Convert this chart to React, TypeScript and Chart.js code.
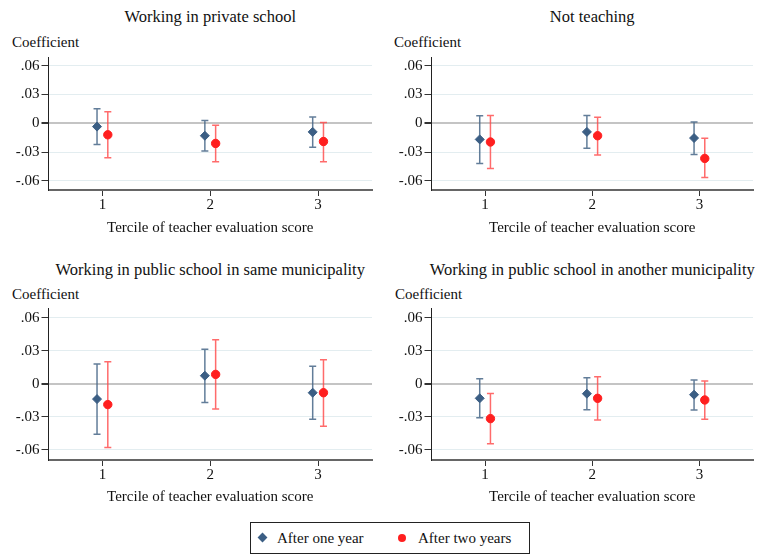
import React, { useEffect, useRef } from "react";
import { Chart, registerables } from "chart.js";

Chart.register(...registerables);

// ---------- DATA ----------
const categories = [1, 2, 3];
const yTickValues = [-0.06, -0.03, 0, 0.03, 0.06];
const seriesNames = ["After one year", "After two years"];
const xAxisTitle = "Tercile of teacher evaluation score";
const yAxisTitle = "Coefficient";
const panelTitles = [
  "Working in private school",
  "Not teaching",
  "Working in public school in same municipality",
  "Working in public school in another municipality",
];

// Panel 1: Working in private school
const privateOneEst = [-0.0035, -0.013, -0.009];
const privateOneLo = [-0.022, -0.029, -0.025];
const privateOneHi = [0.015, 0.003, 0.0066];
const privateTwoEst = [-0.012, -0.021, -0.019];
const privateTwoLo = [-0.036, -0.04, -0.04];
const privateTwoHi = [0.012, -0.002, 0.0007];

// Panel 2: Not teaching
const notTeachOneEst = [-0.0168, -0.009, -0.0154];
const notTeachOneLo = [-0.042, -0.026, -0.0325];
const notTeachOneHi = [0.0077, 0.008, 0.0014];
const notTeachTwoEst = [-0.0195, -0.013, -0.0366];
const notTeachTwoLo = [-0.047, -0.033, -0.0565];
const notTeachTwoHi = [0.008, 0.0063, -0.0157];

// Panel 3: Public school, same municipality
const sameOneEst = [-0.014, 0.0073, -0.0082];
const sameOneLo = [-0.046, -0.017, -0.0324];
const sameOneHi = [0.018, 0.0315, 0.016];
const sameTwoEst = [-0.019, 0.0085, -0.0082];
const sameTwoLo = [-0.058, -0.023, -0.0388];
const sameTwoHi = [0.02, 0.04, 0.0218];

// Panel 4: Public school, another municipality
const anotherOneEst = [-0.0133, -0.0091, -0.01];
const anotherOneLo = [-0.031, -0.0236, -0.024];
const anotherOneHi = [0.0045, 0.0055, 0.0033];
const anotherTwoEst = [-0.0318, -0.0133, -0.0148];
const anotherTwoLo = [-0.0548, -0.033, -0.0324];
const anotherTwoHi = [-0.0088, 0.0064, 0.0024];

// ---------- STYLE ----------
const FONT = "'Liberation Serif', 'Times New Roman', serif";
const BLUE = "#3b5e84";
const BLUE_BAR = "rgba(70,102,135,0.85)";
const RED = "#ff1f1f";
const RED_BAR = "rgba(255,70,70,0.8)";
const seriesOffset = [-0.05, 0.05];

type PanelData = { est: number[]; lo: number[]; hi: number[] }[];

const panels: { title: string; series: PanelData; box: any }[] = [
  {
    title: panelTitles[0],
    series: [
      { est: privateOneEst, lo: privateOneLo, hi: privateOneHi },
      { est: privateTwoEst, lo: privateTwoLo, hi: privateTwoHi },
    ],
    box: { left: 0, top: 45, width: 381, height: 195, yw: 48.5, padTop: 12, padRight: 9, xh: 50, xtPad: 3, titleTop: 7, coefTop: 33, coefLeft: 12 },
  },
  {
    title: panelTitles[1],
    series: [
      { est: notTeachOneEst, lo: notTeachOneLo, hi: notTeachOneHi },
      { est: notTeachTwoEst, lo: notTeachTwoLo, hi: notTeachTwoHi },
    ],
    box: { left: 381, top: 45, width: 381, height: 195, yw: 50.5, padTop: 12, padRight: 9, xh: 50, xtPad: 3, titleTop: 7, coefTop: 33, coefLeft: 394 },
  },
  {
    title: panelTitles[2],
    series: [
      { est: sameOneEst, lo: sameOneLo, hi: sameOneHi },
      { est: sameTwoEst, lo: sameTwoLo, hi: sameTwoHi },
    ],
    box: { left: 0, top: 296, width: 381, height: 211, yw: 48.5, padTop: 12, padRight: 9, xh: 47, xtPad: 1, titleTop: 260, coefTop: 285, coefLeft: 12 },
  },
  {
    title: panelTitles[3],
    series: [
      { est: anotherOneEst, lo: anotherOneLo, hi: anotherOneHi },
      { est: anotherTwoEst, lo: anotherTwoLo, hi: anotherTwoHi },
    ],
    box: { left: 381, top: 296, width: 381, height: 211, yw: 50.5, padTop: 12, padRight: 9, xh: 47, xtPad: 1, titleTop: 260, coefTop: 285, coefLeft: 395 },
  },
];

const errorBarPlugin = {
  id: "errorBars",
  beforeDatasetsDraw(chart: any) {
    const { ctx, scales } = chart;
    const x = scales.x;
    const y = scales.y;
    chart.data.datasets.forEach((ds: any) => {
      ctx.save();
      ctx.strokeStyle = ds.errColor;
      ctx.lineWidth = 1.5;
      ds.data.forEach((p: any, i: number) => {
        const px = x.getPixelForValue(p.x);
        const pLo = y.getPixelForValue(ds.errLo[i]);
        const pHi = y.getPixelForValue(ds.errHi[i]);
        const cap = 3.5;
        ctx.beginPath();
        ctx.moveTo(px, pLo);
        ctx.lineTo(px, pHi);
        ctx.moveTo(px - cap, pLo);
        ctx.lineTo(px + cap, pLo);
        ctx.moveTo(px - cap, pHi);
        ctx.lineTo(px + cap, pHi);
        ctx.stroke();
      });
      ctx.restore();
    });
  },
};

function fmtTick(v: number) {
  if (Math.abs(v) < 1e-9) return "0";
  const s = Math.abs(v).toFixed(2).replace(/^0/, "");
  return (v < 0 ? "-" : "") + s;
}

function Panel({ title, series, box }: { title: string; series: PanelData; box: any }) {
  const ref = useRef<HTMLCanvasElement | null>(null);

  useEffect(() => {
    if (!ref.current) return;
    const colors = [BLUE, RED];
    const barColors = [BLUE_BAR, RED_BAR];
    const styles = ["rectRot", "circle"];
    const radii = [4.5, 4.2];
    const chart = new Chart(ref.current, {
      type: "scatter",
      data: {
        datasets: series.map((s, k) => ({
          label: seriesNames[k],
          data: categories.map((c, i) => ({ x: c + seriesOffset[k], y: s.est[i] })),
          errLo: s.lo,
          errHi: s.hi,
          errColor: barColors[k],
          pointStyle: styles[k],
          pointRadius: radii[k],
          pointBackgroundColor: colors[k],
          pointBorderColor: colors[k],
          pointBorderWidth: 1,
          showLine: false,
        })) as any,
      },
      options: {
        animation: false,
        responsive: false,
        devicePixelRatio: 1,
        layout: { padding: { top: box.padTop, right: box.padRight, left: 0, bottom: 0 } },
        plugins: { legend: { display: false }, tooltip: { enabled: false }, title: { display: false } },
        scales: {
          x: {
            type: "linear",
            min: 0.5,
            max: 3.5,
            afterBuildTicks: (scale: any) => {
              scale.ticks = categories.map((v) => ({ value: v }));
            },
            afterFit: (scale: any) => {
              scale.height = box.xh;
            },
            ticks: {
              font: { family: FONT, size: 15, lineHeight: 1.2 },
              color: "#111",
              padding: 0,
              maxRotation: 0,
              callback: (v: any) => String(v),
            },
            grid: {
              drawOnChartArea: false,
              drawTicks: true,
              tickLength: 6,
              color: "#333",
              tickColor: "#333",
            },
            border: { display: true, color: "#666", width: 2 },
            title: {
              display: true,
              text: xAxisTitle,
              font: { family: FONT, size: 15, lineHeight: 1.2 },
              color: "#111",
              padding: { top: 0, bottom: box.xtPad },
            },
          },
          y: {
            type: "linear",
            min: -0.0695,
            max: 0.069,
            afterBuildTicks: (scale: any) => {
              scale.ticks = yTickValues.map((v) => ({ value: v }));
            },
            afterFit: (scale: any) => {
              scale.width = box.yw;
            },
            ticks: {
              font: { family: FONT, size: 15, lineHeight: 1.2 },
              color: "#111",
              padding: 2,
              callback: (v: any) => fmtTick(Number(v)),
            },
            grid: {
              drawTicks: true,
              tickLength: 7,
              color: (ctx: any) => (Math.abs(ctx.tick?.value ?? 1) < 1e-9 ? "#c4c4c4" : "#e3edf0"),
              lineWidth: (ctx: any) => (Math.abs(ctx.tick?.value ?? 1) < 1e-9 ? 2 : 1),
              tickColor: "#333",
            },
            border: { display: true, color: "#222", width: 1 },
          },
        },
      } as any,
      plugins: [errorBarPlugin],
    });
    return () => chart.destroy();
  }, []);

  const plotLeft = box.left + box.yw;
  const plotRight = box.left + box.width - box.padRight;
  return (
    <>
      <div
        style={{
          position: "absolute",
          left: plotLeft - 20,
          width: plotRight - plotLeft + 40,
          top: box.titleTop,
          textAlign: "center",
          fontFamily: FONT,
          fontSize: 16.5,
          lineHeight: "20px",
          color: "#111",
          whiteSpace: "nowrap",
        }}
      >
        {title}
      </div>
      <div
        style={{
          position: "absolute",
          left: box.coefLeft,
          top: box.coefTop,
          fontFamily: FONT,
          fontSize: 15,
          lineHeight: "18px",
          color: "#111",
        }}
      >
        {yAxisTitle}
      </div>
      <canvas
        ref={ref}
        width={box.width}
        height={box.height}
        style={{ position: "absolute", left: box.left, top: box.top, width: box.width, height: box.height }}
      />
    </>
  );
}

function Legend() {
  const textStyle: React.CSSProperties = {
    position: "absolute",
    top: 6,
    fontFamily: FONT,
    fontSize: 15,
    lineHeight: "18px",
    color: "#111",
    whiteSpace: "nowrap",
  };
  return (
    <div
      style={{
        position: "absolute",
        left: 250,
        top: 522,
        width: 278,
        height: 30,
        border: "1px solid #222",
        background: "#fff",
      }}
    >
      <div
        style={{
          position: "absolute",
          left: 8,
          top: 11,
          width: 7,
          height: 7,
          background: BLUE,
          transform: "rotate(45deg)",
        }}
      />
      <div style={{ ...textStyle, left: 26 }}>{seriesNames[0]}</div>
      <div
        style={{
          position: "absolute",
          left: 147,
          top: 11,
          width: 8,
          height: 8,
          borderRadius: "50%",
          background: RED,
        }}
      />
      <div style={{ ...textStyle, left: 167 }}>{seriesNames[1]}</div>
    </div>
  );
}

export default function App() {
  return (
    <div
      style={{
        position: "fixed",
        left: 0,
        top: 0,
        width: 762,
        height: 557,
        background: "#fff",
        overflow: "hidden",
      }}
    >
      {panels.map((p, i) => (
        <Panel key={i} title={p.title} series={p.series} box={p.box} />
      ))}
      <Legend />
    </div>
  );
}
